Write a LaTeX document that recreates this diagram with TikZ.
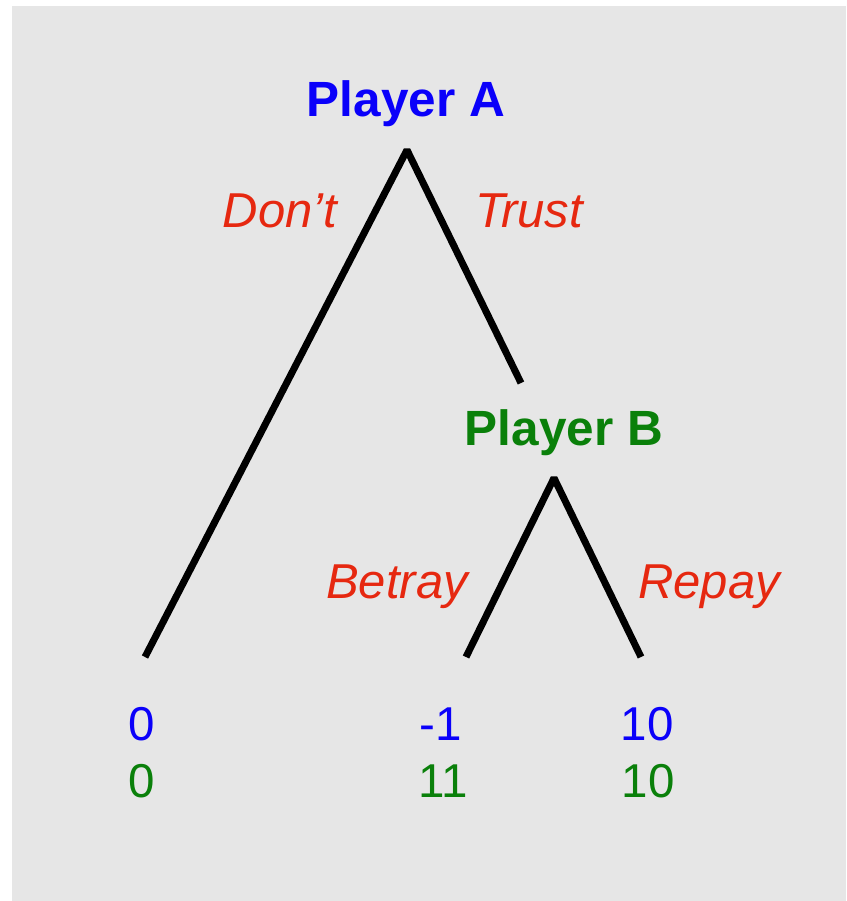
\documentclass[tikz,border=0pt]{standalone}
\usepackage{fontspec}
\setmainfont{Liberation Sans}
\definecolor{panel}{RGB}{230,230,230}
\definecolor{pblue}{RGB}{10,0,250}
\definecolor{pgreen}{RGB}{10,128,10}
\definecolor{pred}{RGB}{230,40,16}
\tikzset{
  branch/.style={line width=7pt, line join=bevel, line cap=butt, black},
  player/.style={anchor=base, inner sep=0pt, font=\fontsize{49.5}{58}\selectfont\bfseries},
  move/.style={anchor=base, inner sep=0pt, text=pred, font=\fontsize{49}{56}\selectfont\itshape},
  payoff/.style={anchor=base, inner sep=0pt, font=\fontsize{47.5}{56}\selectfont},
}
\begin{document}
\begin{tikzpicture}[x=1pt,y=-1pt]
  \useasboundingbox (0,0) rectangle (846,901);
  \fill[panel] (12,6) rectangle (846,901);

  % decision points and branch ends
  \coordinate (A)  at (407,150);
  \coordinate (tB) at (521,383);
  \coordinate (B)  at (554,478);
  \coordinate (l1) at (145,657);
  \coordinate (l2) at (466,657);
  \coordinate (l3) at (641,657);

  \draw[branch] (l1) -- (A) -- (tB);
  \draw[branch] (l2) -- (B) -- (l3);

  % players
  \node[player, text=pblue]  (pa) at (406,117) {Player A};
  \node[player, text=pgreen] (pb) at (564,445) {Player B};

  % moves
  \node[move] (dont)   at (280,228) {Don’t};
  \node[move] (trust)  at (529,228) {Trust};
  \node[move] (betray) at (397,598) {Betray};
  \node[move] (repay)  at (709,598) {Repay};

  % payoffs: first row Player A, second row Player B
  \node[payoff, text=pblue]  (a1) at (142,740) {0};
  \node[payoff, text=pblue]  (a2) at (441,740) {-1};
  \node[payoff, text=pblue]  (a3) at (647,740) {10};
  \node[payoff, text=pgreen] (b1) at (142,797) {0};
  \node[payoff, text=pgreen] (b2) at (443,797) {11};
  \node[payoff, text=pgreen] (b3) at (648,797) {10};
\end{tikzpicture}
\end{document}
